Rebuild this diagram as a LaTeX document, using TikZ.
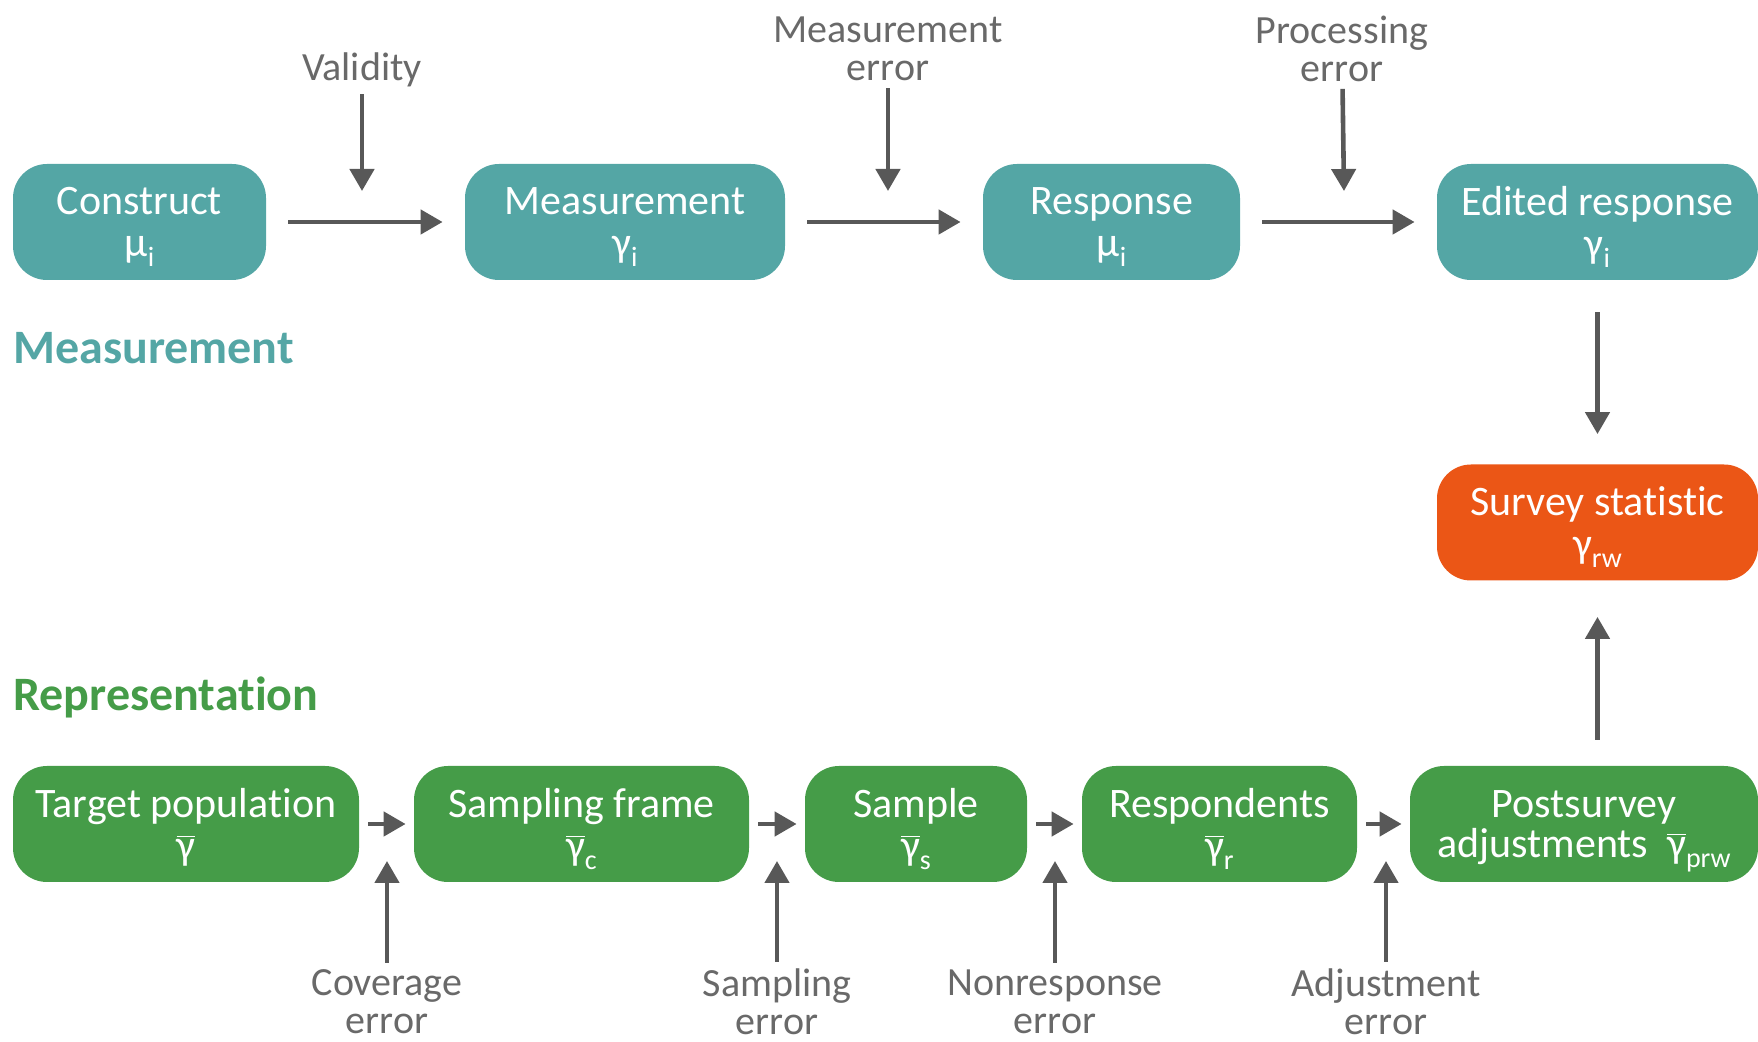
\documentclass[tikz,border=0pt]{standalone}
\usepackage{fontspec}
\setmainfont{Carlito}[Ligatures=NoCommon]
\usetikzlibrary{arrows.meta,positioning}
\definecolor{tealbox}{RGB}{84,166,165}
\definecolor{orangebox}{RGB}{235,86,22}
\definecolor{greenbox}{RGB}{69,156,72}
\definecolor{labgray}{RGB}{105,105,105}
\definecolor{arrgray}{RGB}{88,88,88}
\newcommand{\lo}[1]{\raisebox{-0.5ex}{\fontsize{14}{14}\selectfont #1}}
\newcommand{\gbar}{\ensuremath{\overline{\mbox{γ}}}}
\tikzset{
box/.style={rounded corners=17pt,minimum height=58pt,align=center,text=white,inner sep=0pt,text depth=0pt,font=\fontsize{21}{21}\selectfont},
mbox/.style={box,fill=tealbox},
rbox/.style={box,fill=greenbox},
sbox/.style={box,fill=orangebox},
arr/.style={draw=arrgray,line width=2.3pt,-{Triangle[length=11pt,width=12pt]}},
err/.style={text=labgray,align=center,font=\fontsize{20}{19}\selectfont},
}

\begin{document}
\begin{tikzpicture}[x=0.5pt,y=-0.5pt]
\useasboundingbox (0,0) rectangle (1758,1042);

% measurement side
\node[mbox,minimum width=126.5pt] (con) at (139.5,222) {Construct\\μ\lo{i}};
\node[mbox,minimum width=160pt] (mea) at (625,222) {Measurement\\γ\lo{i}};
\node[mbox,minimum width=128.5pt] (res) at (1111.5,222) {Response\\μ\lo{i}};
\node[mbox,minimum width=160.5pt] (edi) at (1597.5,222) {Edited response\\γ\lo{i}};
\node[sbox,minimum width=160.5pt] (sur) at (1597.5,522.5) {Survey statistic\\γ\lo{rw}};

\node[anchor=west,inner sep=0pt,text=tealbox,font=\bfseries\fontsize{24}{24}\selectfont] (mtitle) at (13,348) {Measurement};

\foreach \a/\b in {con/mea,mea/res,res/edi}
\draw[arr,shorten <=11pt,shorten >=11pt] (\a) -- (\b);

\node[err] (lval) at (362,70) {Validity};
\node[err] (lmea) at (888,49) {Measurement\\error};
\node[err] (lpro) at (1342,49) {Processing\\error};
\coordinate (cval) at (362,191);
\coordinate (cmea) at (888,191);
\coordinate (cpro) at (1344,191);
\foreach \x in {val,mea,pro}
\draw[arr] (l\x) -- (c\x);

\draw[arr,shorten <=16pt,shorten >=15pt] (edi) -- (sur);

% representation side
\node[rbox,minimum width=173pt] (tar) at (186,824) {Target population\\\gbar};
\node[rbox,minimum width=167.5pt] (fra) at (581.5,824) {Sampling frame\\\gbar\lo{c}};
\node[rbox,minimum width=111pt] (sam) at (916,824) {Sample\\\gbar\lo{s}};
\node[rbox,minimum width=137.5pt] (rsp) at (1219.5,824) {Respondents\\\gbar\lo{r}};
\node[rbox,minimum width=174pt,font=\fontsize{21}{20}\selectfont] (pos) at (1584,824) {Postsurvey\\adjustments\ \ \gbar\lo{prw}};

\node[anchor=west,inner sep=0pt,text=greenbox,font=\bfseries\fontsize{24}{24}\selectfont] (rtitle) at (13,697) {Representation};

\foreach \a/\b in {tar/fra,fra/sam,sam/rsp,rsp/pos}
\draw[arr,shorten <=4.5pt,shorten >=4pt] (\a) -- (\b);

\draw[arr,shorten <=13pt,shorten >=18pt] (pos.north -| sur.south) -- (sur);

\node[err] (lcov) at (387,1002) {Coverage\\error};
\node[err] (lsam) at (777,1002) {Sampling\\error};
\node[err] (lnon) at (1055,1002) {Nonresponse\\error};
\node[err] (ladj) at (1386,1002) {Adjustment\\error};
\coordinate (ccov) at (387,861);
\coordinate (csam) at (777,861);
\coordinate (cnon) at (1055,861);
\coordinate (cadj) at (1386,861);
\foreach \x in {cov,sam,non,adj}
\draw[arr] (l\x) -- (c\x);
\end{tikzpicture}
\end{document}
